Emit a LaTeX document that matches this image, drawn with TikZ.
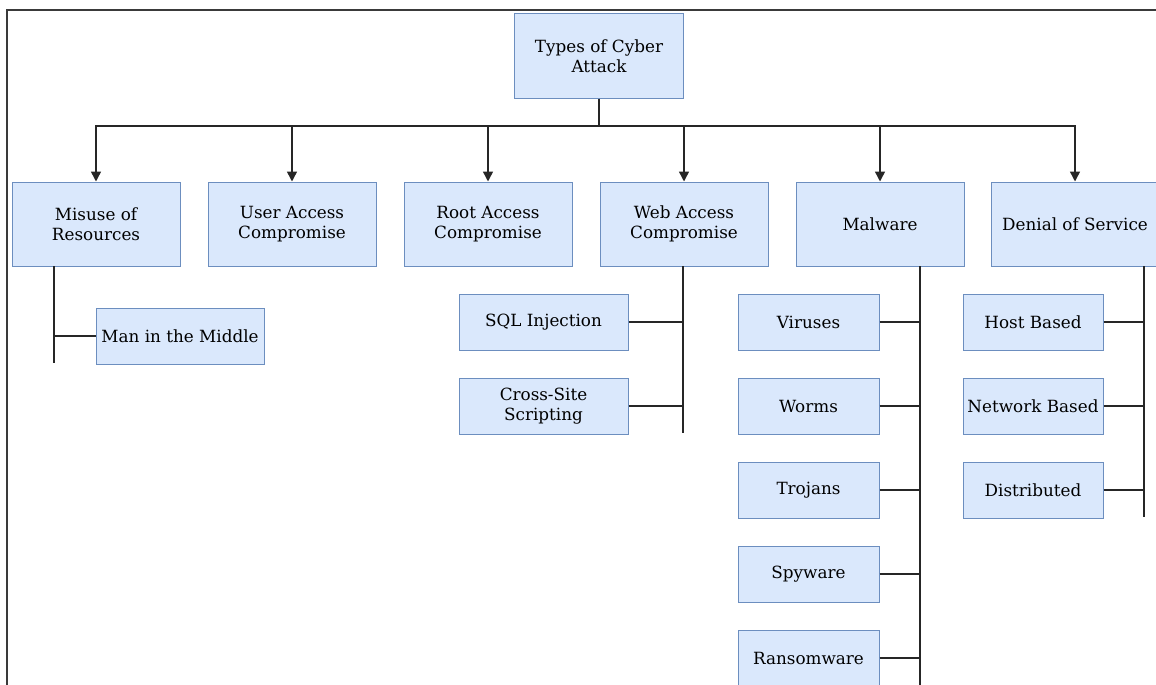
\documentclass[tikz,border=0pt]{standalone}
\usepackage{fontspec}
\setmainfont{DejaVu Serif}
\usetikzlibrary{arrows.meta}
\definecolor{boxfill}{HTML}{DAE8FC}
\definecolor{boxline}{HTML}{6C8EBF}
\definecolor{framec}{HTML}{3A3A3A}
\begin{document}
\begin{tikzpicture}[x=1pt,y=-1pt,
  box/.style={draw=boxline,fill=boxfill,line width=1pt,align=center,inner sep=2pt,
    font=\fontsize{16.8}{20}\selectfont,text=black},
  topbox/.style={box,minimum width=168pt,minimum height=84pt},
  subbox/.style={box,minimum width=169pt,minimum height=56pt},
  leafbox/.style={box,minimum width=140pt,minimum height=56pt},
  conn/.style={line width=1.5pt,draw=black!85},
  arr/.style={conn,-{Triangle[width=10pt,length=10pt]}}]
\useasboundingbox (0,0) rectangle (1156,685);
\draw[line width=1.6pt,framec] (1156,10) -- (7,10) -- (7,685);
\node[topbox,minimum width=169pt] (root) at (599,56) {Types of Cyber\\Attack};
\node[topbox] (mis) at (96,224) {Misuse of\\Resources};
\node[topbox] (uac) at (292,224) {User Access\\Compromise};
\node[topbox] (rac) at (488,224) {Root Access\\Compromise};
\node[topbox] (wac) at (684,224) {Web Access\\Compromise};
\node[topbox] (mal) at (880,224) {Malware};
\node[topbox] (dos) at (1075,224) {Denial of Service};
\node[subbox,minimum width=168pt] (mitm) at (180,336) {Man in the Middle};
\node[subbox] (sql) at (543.5,322) {SQL Injection};
\node[subbox] (xss) at (543.5,406) {Cross-Site\\Scripting};
\node[leafbox,minimum width=141pt] (vir) at (808.5,322) {Viruses};
\node[leafbox,minimum width=141pt] (wor) at (808.5,406) {Worms};
\node[leafbox,minimum width=141pt] (tro) at (808.5,490) {Trojans};
\node[leafbox,minimum width=141pt] (spy) at (808.5,574) {Spyware};
\node[leafbox,minimum width=141pt] (ran) at (808.5,658) {Ransomware};
\node[leafbox] (hos) at (1033,322) {Host Based};
\node[leafbox] (net) at (1033,406) {Network Based};
\node[leafbox] (dis) at (1033,490) {Distributed};
% main bus
\coordinate (bus) at (599,126);
\draw[conn] (root.south) -- (bus);
\foreach \n in {mis,uac,rac,wac,mal,dos}{
  \draw[arr] (bus) -| (\n.north);
}
% misuse branch
\coordinate (mistop) at (54,266);
\coordinate (misend) at (54,363);
\draw[conn] (mistop) -- (misend);
\draw[conn] (mitm.west) -- (mitm.west -| misend);
% web branch
\coordinate (webtop) at (683,266);
\coordinate (webend) at (683,433);
\draw[conn] (webtop) -- (webend);
\foreach \n in {sql,xss}{\draw[conn] (\n.east) -- (\n.east -| webend);}
% malware branch
\coordinate (maltop) at (920,266);
\coordinate (malend) at (920,685);
\draw[conn] (maltop) -- (malend);
\foreach \n in {vir,wor,tro,spy,ran}{\draw[conn] (\n.east) -- (\n.east -| malend);}
% dos branch
\coordinate (dostop) at (1144,266);
\coordinate (dosend) at (1144,517);
\draw[conn] (dostop) -- (dosend);
\foreach \n in {hos,net,dis}{\draw[conn] (\n.east) -- (\n.east -| dosend);}
\end{tikzpicture}
\end{document}
